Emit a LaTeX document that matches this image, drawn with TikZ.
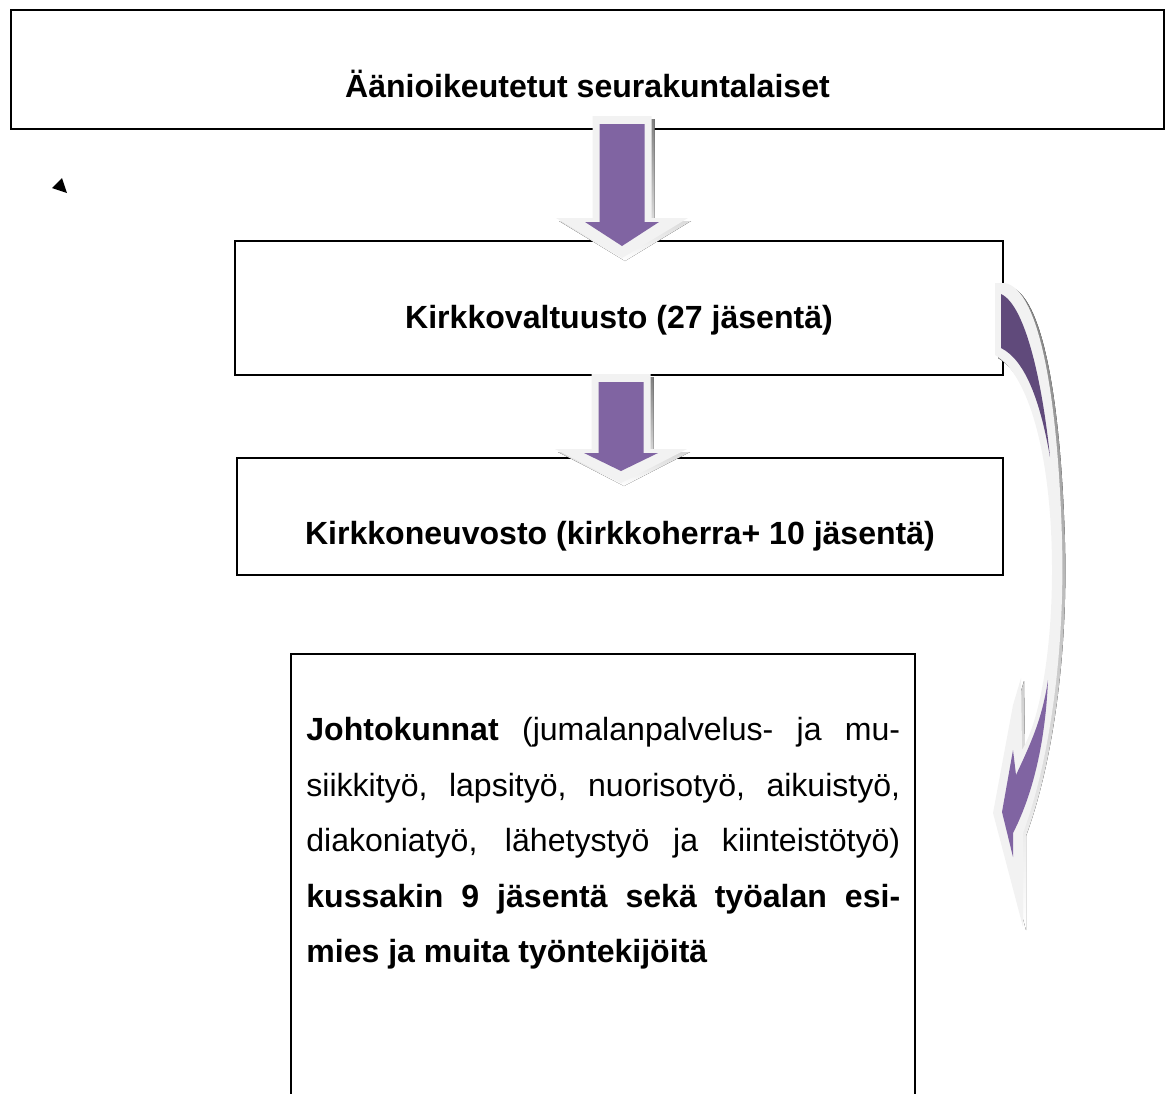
\documentclass[tikz,border=0pt]{standalone}
\usepackage{fontspec}
\setmainfont{Liberation Sans}
\usepackage{tikz}
\definecolor{plum}{HTML}{8064A2}
\definecolor{plumdark}{HTML}{604A7B}
\definecolor{pale}{HTML}{F2F2F2}
\definecolor{shade}{HTML}{A39FB3}
\newcommand{\fatarrow}[4]{% x, top, base of head, tip
 \foreach \s/\c in {3/shade,0/pale}
  \fill[\c,shift={(\s,\s+1)}] (#1-29.5,#2) -- (#1+29.5,#2) -- (#1+29.5,#3) -- (#1+66,#3)
   -- (#1,#4) -- (#1-66,#3) -- (#1-29.5,#3) -- cycle;
 \fill[plum] (#1-22.5,#2+9) -- (#1+22.5,#2+9) -- (#1+22.5,#3+5) -- (#1+37,#3+5)
  -- (#1,#4-11) -- (#1-37,#3+5) -- (#1-22.5,#3+5) -- cycle;}

\begin{document}
\begin{tikzpicture}[x=0.02cm,y=-0.02cm,
 every node/.style={font=\fontsize{18.25}{31.6}\selectfont},
 box/.style={draw,line width=1.1pt,inner sep=0pt},
 head/.style={anchor=base,font=\fontsize{18.25}{31.6}\selectfont\bfseries}]
 \clip (0,0) rectangle (1169,1093);
 \node[box,minimum width=23.06cm,minimum height=2.38cm] (voters) at (587.5,69.5) {};
 \node[box,minimum width=15.36cm,minimum height=2.68cm] (council) at (619,308) {};
 \node[box,minimum width=15.32cm,minimum height=2.34cm] (board) at (620,516.5) {};
 \node[box,minimum width=12.48cm,minimum height=9.6cm,anchor=north] (boards) at (603,653) {};
 \node[head] (voterstxt) at (587.5,97) {Äänioikeutetut seurakuntalaiset};
 \node[head] (counciltxt) at (619,328) {Kirkkovaltuusto (27 jäsentä)};
 \node[head] (boardtxt) at (620,544) {Kirkkoneuvosto (kirkkoherra+ 10 jäsentä)};
 \node[anchor=north west,text width=11.88cm,align=justify,inner sep=0pt] (boardstxt) at (306,717)
  {\hyphenpenalty=10000 \exhyphenpenalty=10000 \tolerance=10000
   \textbf{Johtokunnat} (jumalanpalvelus- ja mu-\linebreak
   siikkityö, lapsityö, nuorisotyö, aikuistyö,\linebreak
   diakoniatyö, lähetystyö ja kiinteistötyö)\linebreak
   \textbf{kussakin 9 jäsentä sekä työalan esi-\linebreak
   mies ja muita työntekijöitä}};
 % block arrows
 \fatarrow{622}{115}{217}{257}
 \fatarrow{621}{373}{448}{482}
 % bent arrow on the right
 \foreach \s/\c in {3/shade,0/pale}
  \fill[\c,shift={(\s,\s)}] (995,283) -- (1005,283) .. controls (1040,290) and (1058,400) .. (1062,540)
   .. controls (1065,650) and (1050,760) .. (1023,833) -- (1023,927) -- (993,813) -- (1013,705)
   -- (1021,678) -- (1022,750) .. controls (1040,720) and (1052,650) .. (1052,570)
   .. controls (1052,460) and (1030,375) .. (995,355) -- cycle;
 \fill[plumdark] (1001,294) .. controls (1025,305) and (1042,380) .. (1050,457)
  .. controls (1040,400) and (1025,360) .. (1001,348) -- cycle;
 \fill[plum] (1048,680) .. controls (1045,750) and (1030,800) .. (1013,833) -- (1013,857)
  -- (1002,812) -- (1013,750) -- (1016,775) .. controls (1030,745) and (1042,720) .. (1048,680) -- cycle;
 \fill (52,188) -- (62,178) -- (67,193) -- cycle;
\end{tikzpicture}
\end{document}
